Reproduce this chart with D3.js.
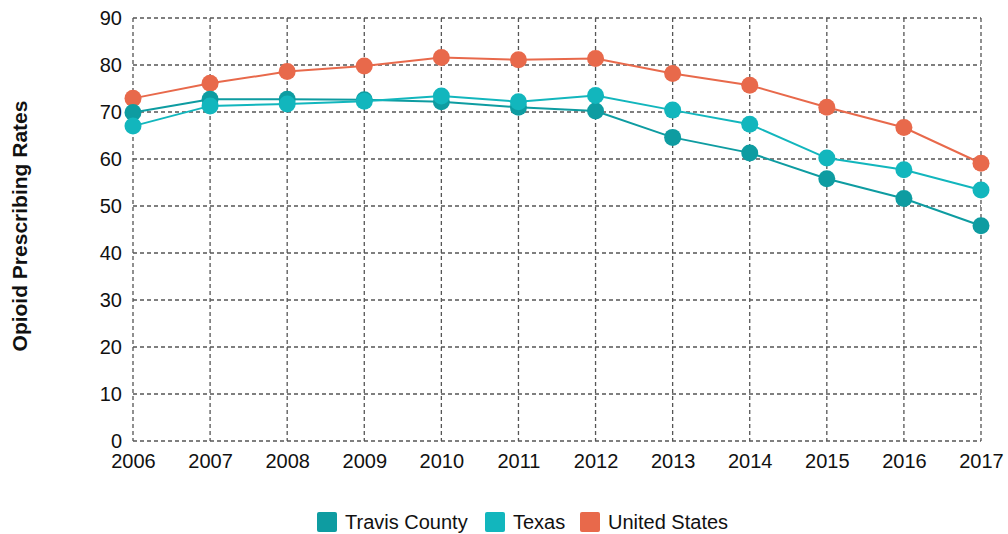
<!DOCTYPE html>
<html><head><meta charset="utf-8">
<script src="https://cdn.jsdelivr.net/npm/d3@7"></script>
<style>
body{margin:0;background:#fff;}
text{font-family:"Liberation Sans",Arial,sans-serif;}
</style></head>
<body><svg id="c" width="1008" height="534"></svg>
<script>
const years = ["2006","2007","2008","2009","2010","2011","2012","2013","2014","2015","2016","2017"];
const travis = [69.9,72.7,72.7,72.6,72.2,71.0,70.2,64.6,61.3,55.8,51.6,45.8];
const texas  = [67.0,71.3,71.7,72.3,73.4,72.2,73.5,70.4,67.4,60.2,57.7,53.4];
const us     = [72.9,76.1,78.6,79.8,81.6,81.1,81.4,78.2,75.7,71.0,66.7,59.1];
const seriesNames = ["Travis County","Texas","United States"];
const colors = ["#0e9ca1","#12b6bd","#e8694b"];
const yTicks = [0,10,20,30,40,50,60,70,80,90];

const svg = d3.select("#c");
const L=133,R=981,T=18,B=441;
const x = d3.scalePoint().domain(years).range([L,R]);
const y = d3.scaleLinear().domain([0,90]).range([B,T]);

const g = svg.append("g");
g.selectAll(".hg").data(yTicks).join("line")
  .attr("x1",L).attr("x2",R).attr("y1",d=>y(d)).attr("y2",d=>y(d))
  .attr("stroke","#555").attr("stroke-width",1.3).attr("stroke-dasharray","4,3");
g.selectAll(".vg").data(years).join("line")
  .attr("x1",d=>x(d)).attr("x2",d=>x(d)).attr("y1",T).attr("y2",B)
  .attr("stroke","#555").attr("stroke-width",1.3).attr("stroke-dasharray","4,3");

const ya = svg.append("g").attr("transform",`translate(${L},0)`)
  .call(d3.axisLeft(y).tickValues(yTicks).tickSize(0).tickPadding(11));
ya.select(".domain").remove();
ya.selectAll("text").attr("font-size",20).attr("fill","#111").attr("dy","0.3em").attr("font-family","Liberation Sans, Arial, sans-serif");
const xa = svg.append("g").attr("transform",`translate(0,${B})`)
  .call(d3.axisBottom(x).tickSize(0).tickPadding(13));
xa.select(".domain").remove();
xa.selectAll("text").attr("font-size",20).attr("fill","#111").attr("font-family","Liberation Sans, Arial, sans-serif");

svg.append("text").attr("transform","translate(27,226) rotate(-90)")
  .attr("text-anchor","middle").attr("font-size",21).attr("font-weight","bold").attr("fill","#111")
  .text("Opioid Prescribing Rates");

const data = [travis,texas,us];
const line = d3.line().x((d,i)=>x(years[i])).y(d=>y(d));
[2,0,1].forEach(k=>{
  const s = svg.append("g");
  s.append("path").datum(data[k]).attr("d",line).attr("fill","none")
    .attr("stroke",colors[k]).attr("stroke-width",2);
  s.selectAll("circle").data(data[k]).join("circle")
    .attr("cx",(d,i)=>x(years[i])).attr("cy",d=>y(d)).attr("r",8.5)
    .attr("fill",colors[k]);
});

const lg = svg.append("g");
const lx = [317,485,580];
seriesNames.forEach((n,i)=>{
  lg.append("rect").attr("x",lx[i]).attr("y",512).attr("width",20).attr("height",20).attr("rx",2).attr("fill",colors[i]);
  lg.append("text").attr("x",lx[i]+28).attr("y",529).attr("font-size",20).attr("fill","#111").text(n);
});
</script></body></html>
